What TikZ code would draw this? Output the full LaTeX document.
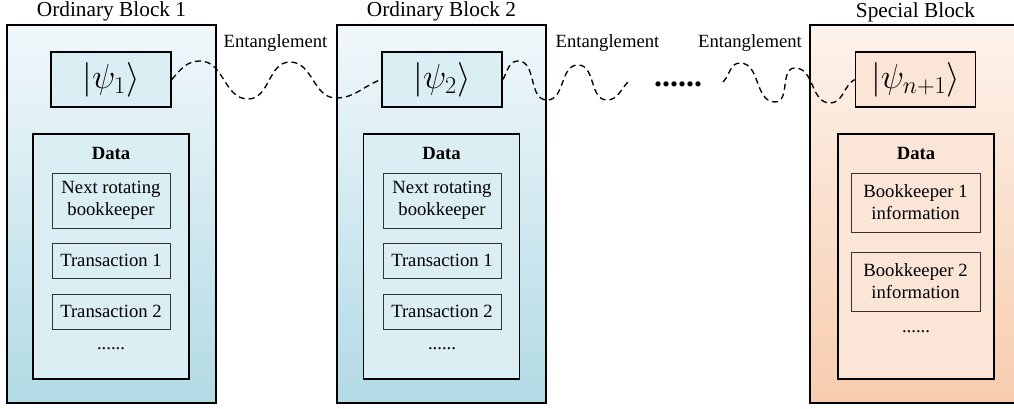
\RequirePackage{fix-cm}
\documentclass[tikz,border=0pt]{standalone}
\usepackage{fontspec}
\setmainfont{Liberation Serif}
\definecolor{blueTop}{HTML}{F1F8FB}
\definecolor{blueBot}{HTML}{B2DAE5}
\definecolor{blueBox}{HTML}{DAEEF3}
\definecolor{peachTop}{HTML}{FDF3EC}
\definecolor{peachBot}{HTML}{F7CCAD}
\definecolor{peachBox}{HTML}{FBE5D6}

\begin{document}
\begin{tikzpicture}[x=0.75pt,y=-0.75pt,
  block/.style={draw, line width=1.3pt, minimum width=156.75pt, minimum height=283.5pt},
  ordinary/.style={block, top color=blueTop, bottom color=blueBot},
  special/.style={block, top color=peachTop, bottom color=peachBot},
  ket/.style={draw, line width=1.3pt, minimum width=90pt, minimum height=41.25pt,
    font=\fontsize{26}{28}\selectfont},
  databox/.style={draw, line width=1.3pt, minimum width=117pt, minimum height=183.75pt},
  entry/.style={draw=black!80, line width=0.7pt, align=center, inner sep=0pt,
    font=\fontsize{14}{16.5}\selectfont},
  title/.style={font=\fontsize{16}{18}\selectfont, anchor=south, inner sep=2pt},
  tag/.style={font=\fontsize{14}{16}\selectfont},
  wave/.style={dash pattern=on 4.5pt off 3pt, line width=1pt}]
\useasboundingbox (0,0) rectangle (1014,409);
%
\node[ordinary] (blk1) at (111.5,214) {};
\node[title] (ttl1) at (blk1.north) {Ordinary Block 1};
\node[ket, fill=blueBox] (psi1) at (111,79.5) {$|\psi_1\rangle$};
\node[databox, fill=blueBox] (data1) at (111,256.5) {};
\node[tag, font=\fontsize{14}{16}\bfseries] (dt1) at (111,153) {Data};
\node[entry, minimum width=88.5pt, minimum height=41.25pt] (nxt1) at (111,200.5) {Next rotating\\bookkeeper};
\node[entry, minimum width=88.5pt, minimum height=26.25pt] (tx11) at (111,260.5) {Transaction 1};
\node[entry, minimum width=88.5pt, minimum height=26.25pt] (tx12) at (111,311.5) {Transaction 2};
\node[tag] (more1) at (111,349) {......};
%
\node[ordinary] (blk2) at (441.5,214) {};
\node[title] (ttl2) at (blk2.north) {Ordinary Block 2};
\node[ket, fill=blueBox] (psi2) at (442,79.5) {$|\psi_2\rangle$};
\node[databox, fill=blueBox] (data2) at (441.5,256.5) {};
\node[tag, font=\fontsize{14}{16}\bfseries] (dt2) at (441.5,153) {Data};
\node[entry, minimum width=88.5pt, minimum height=41.25pt] (nxt2) at (442,200.5) {Next rotating\\bookkeeper};
\node[entry, minimum width=88.5pt, minimum height=26.25pt] (tx21) at (442,260.5) {Transaction 1};
\node[entry, minimum width=88.5pt, minimum height=26.25pt] (tx22) at (442,311.5) {Transaction 2};
\node[tag] (more2) at (442,349) {......};
%
\node[special] (blkS) at (914.5,214) {};
\node[title] (ttlS) at (915.5,25) {Special Block};
\node[ket, fill=peachBox] (psiN) at (915.5,79.5) {$|\psi_{n+1}\rangle$};
\node[databox, fill=peachBox] (dataS) at (916,256.5) {};
\node[tag, font=\fontsize{14}{16}\bfseries] (dtS) at (916,153) {Data};
\node[entry, minimum width=96.75pt, minimum height=44.25pt] (bk1) at (915.5,202.5) {Bookkeeper 1\\information};
\node[entry, minimum width=96.75pt, minimum height=44.25pt] (bk2) at (915.5,281.5) {Bookkeeper 2\\information};
\node[tag] (moreS) at (916,332) {......};
%
\node[tag] (ent1) at (275.5,43) {Entanglement};
\node[tag] (ent2) at (607.5,43) {Entanglement};
\node[tag] (ent3) at (750,43) {Entanglement};
\node[font=\fontsize{24}{24}\bfseries] (gap) at (678,84) {......};
\coordinate (w2end) at (628,82);
\coordinate (w3start) at (723,82);
%
\draw[wave] (psi1.east) to[out=50,in=180] (200,61) to[out=0,in=180] (248,99)
  to[out=0,in=180] (290,62) to[out=0,in=180] (336,98) to[out=0,in=200] (psi2.west);
\draw[wave] (psi2.east) to[out=60,in=180] (518,61) to[out=0,in=180] (547,100)
  to[out=0,in=180] (578,65) to[out=0,in=180] (607,100) to[out=0,in=225] (w2end);
\draw[wave] (w3start) to[out=45,in=180] (740,63) to[out=0,in=180] (775,102)
  to[out=0,in=180] (795,68) to[out=0,in=180] (830,103) to[out=0,in=210] (psiN.west);
\end{tikzpicture}
\end{document}
